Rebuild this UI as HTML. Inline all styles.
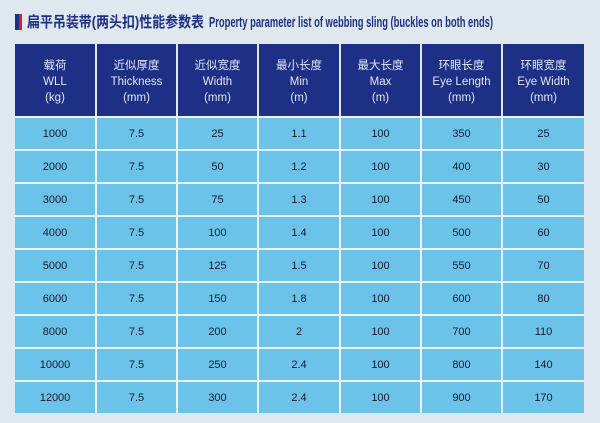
<!DOCTYPE html>
<html>
<head>
<meta charset="utf-8">
<title>Property parameter list</title>
<style>
html,body{margin:0;padding:0}
body{width:600px;height:423px;background:#dfe8ef;position:relative;overflow:hidden;font-family:"Liberation Sans","Noto Sans CJK SC",sans-serif}
.bar1{position:absolute;left:15px;top:14px;width:4px;height:16px;background:#1e2f86}
.bar2{position:absolute;left:19px;top:14px;width:3px;height:16px;background:#d8202a}
.tbl{position:absolute;left:15px;top:44px;width:569px;height:73px;background:#dfe8ef}
.c{position:absolute;text-align:center;font-size:11.5px;color:#1a1a2a}
.hd{background:#1e2f86;color:#dfe6f5;line-height:16px;padding-top:14px;box-sizing:border-box}
#rows td{height:31px;padding:0;border:2px solid #e8f2f8;background:#6cc3ea;text-align:center;font-size:11px;color:#1a1a2a}
#rows td:first-child{border-left:none}
#rows td:last-child{border-right:none}
#rows tr:last-child td{border-bottom:none}
</style>
</head>
<body>
<div class="bar1"></div><div class="bar2"></div>
<svg style="position:absolute;left:0;top:0" width="600" height="40">
<text x="27" y="27" font-family="Liberation Sans, Noto Sans CJK SC, sans-serif" font-weight="bold" font-size="15" fill="#1e2f86" textLength="177" lengthAdjust="spacingAndGlyphs">扁平吊装带(两头扣)性能参数表</text>
<text x="209" y="27" font-family="Liberation Sans, sans-serif" font-weight="bold" font-size="15" fill="#1e2f86" textLength="284" lengthAdjust="spacingAndGlyphs">Property parameter list of webbing sling (buckles on both ends)</text>
</svg>
<div class="tbl">
<div class="c hd" style="left:0;top:0;width:80px;height:72px">载荷<br>WLL<br>(kg)</div>
<div class="c hd" style="left:82px;top:0;width:79px;height:72px">近似厚度<br>Thickness<br>(mm)</div>
<div class="c hd" style="left:163px;top:0;width:79px;height:72px">近似宽度<br>Width<br>(mm)</div>
<div class="c hd" style="left:244px;top:0;width:80px;height:72px">最小长度<br>Min<br>(m)</div>
<div class="c hd" style="left:326px;top:0;width:79px;height:72px">最大长度<br>Max<br>(m)</div>
<div class="c hd" style="left:407px;top:0;width:79px;height:72px">环眼长度<br>Eye Length<br>(mm)</div>
<div class="c hd" style="left:488px;top:0;width:81px;height:72px">环眼宽度<br>Eye Width<br>(mm)</div>
</div>
<div id="rows" style="position:absolute;left:15px;top:116px;width:569px">
<table style="border-collapse:collapse;table-layout:fixed;width:569px">
<colgroup><col style="width:81px"><col style="width:81px"><col style="width:81px"><col style="width:82px"><col style="width:81px"><col style="width:81px"><col style="width:82px"></colgroup>
<tr><td>1000</td><td>7.5</td><td>25</td><td>1.1</td><td>100</td><td>350</td><td>25</td></tr>
<tr><td>2000</td><td>7.5</td><td>50</td><td>1.2</td><td>100</td><td>400</td><td>30</td></tr>
<tr><td>3000</td><td>7.5</td><td>75</td><td>1.3</td><td>100</td><td>450</td><td>50</td></tr>
<tr><td>4000</td><td>7.5</td><td>100</td><td>1.4</td><td>100</td><td>500</td><td>60</td></tr>
<tr><td>5000</td><td>7.5</td><td>125</td><td>1.5</td><td>100</td><td>550</td><td>70</td></tr>
<tr><td>6000</td><td>7.5</td><td>150</td><td>1.8</td><td>100</td><td>600</td><td>80</td></tr>
<tr><td>8000</td><td>7.5</td><td>200</td><td>2</td><td>100</td><td>700</td><td>110</td></tr>
<tr><td>10000</td><td>7.5</td><td>250</td><td>2.4</td><td>100</td><td>800</td><td>140</td></tr>
<tr><td>12000</td><td>7.5</td><td>300</td><td>2.4</td><td>100</td><td>900</td><td>170</td></tr>
</table>
</div>
</body>
</html>
